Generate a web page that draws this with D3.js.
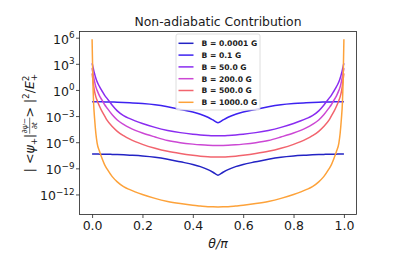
<!DOCTYPE html>
<html>
<head>
<meta charset="utf-8">
<script src="https://cdn.jsdelivr.net/npm/d3@7"></script>
<style>
  body { margin: 0; background: #fff; }
  svg { display: block; }
  text { font-family: "DejaVu Sans", sans-serif; fill: #1a1a1a; }
</style>
</head>
<body>
<svg id="chart" width="416" height="258"></svg>
<script>

// theta / pi sample points
var theta = [0, 0.003, 0.006, 0.01, 0.015, 0.02, 0.03, 0.04, 0.05, 0.06, 0.08, 0.1, 0.125, 0.15, 0.2, 0.25, 0.3, 0.35, 0.4, 0.43, 0.46, 0.48,
  0.5,
  0.52, 0.54, 0.57, 0.6, 0.65, 0.7, 0.75, 0.8, 0.85, 0.875, 0.9, 0.92, 0.94, 0.95, 0.96, 0.97, 0.98, 0.985, 0.99, 0.994, 0.997, 1.0];

// log10 of the plotted quantity
var expB00001 = [-7.36, -7.36, -7.36, -7.36, -7.36, -7.36, -7.37, -7.37, -7.38, -7.38, -7.40, -7.42, -7.45, -7.49, -7.58, -7.72, -7.95, -8.25, -8.55, -8.80, -9.15, -9.45,
  -9.78,
  -9.45, -9.15, -8.80, -8.55, -8.25, -7.95, -7.72, -7.58, -7.49, -7.45, -7.42, -7.40, -7.38, -7.38, -7.37, -7.37, -7.36, -7.36, -7.36, -7.36, -7.36, -7.36];

var expB01 = [-1.35, -1.35, -1.35, -1.35, -1.35, -1.35, -1.36, -1.36, -1.37, -1.37, -1.39, -1.41, -1.44, -1.48, -1.57, -1.71, -1.94, -2.24, -2.54, -2.79, -3.14, -3.44,
  -3.76,
  -3.44, -3.14, -2.79, -2.54, -2.24, -1.94, -1.71, -1.57, -1.48, -1.44, -1.41, -1.39, -1.37, -1.37, -1.36, -1.36, -1.35, -1.35, -1.35, -1.35, -1.35, -1.35];

var expB50 = [3.07, 2.7, 2.3, 1.85, 1.35, 0.95, 0.35, -0.15, -0.62, -1.0, -1.75, -2.4, -2.95, -3.3, -3.85, -4.3, -4.65, -4.9, -5.08, -5.16, -5.22, -5.25,
  -5.26,
  -5.25, -5.22, -5.16, -5.08, -4.9, -4.65, -4.3, -3.85, -3.3, -2.95, -2.4, -1.75, -1.0, -0.62, -0.15, 0.35, 0.95, 1.35, 1.85, 2.3, 2.7, 3.07];

var expB200 = [2.5, 2.0, 1.5, 0.95, 0.35, -0.05, -0.7, -1.2, -1.7, -2.1, -2.85, -3.45, -3.95, -4.35, -4.95, -5.4, -5.8, -6.05, -6.22, -6.3, -6.36, -6.38,
  -6.39,
  -6.38, -6.36, -6.3, -6.22, -6.05, -5.8, -5.4, -4.95, -4.35, -3.95, -3.45, -2.85, -2.1, -1.7, -1.2, -0.7, -0.05, 0.35, 0.95, 1.5, 2.0, 2.5];

var expB500 = [1.9, 1.2, 0.5, -0.2, -0.8, -1.2, -1.9, -2.5, -3.0, -3.5, -4.2, -4.75, -5.25, -5.65, -6.25, -6.7, -7.05, -7.3, -7.5, -7.6, -7.67, -7.7,
  -7.71,
  -7.7, -7.67, -7.6, -7.5, -7.3, -7.05, -6.7, -6.25, -5.65, -5.25, -4.75, -4.2, -3.5, -3.0, -2.5, -1.9, -1.2, -0.8, -0.2, 0.5, 1.2, 1.9];

var expB1000 = [5.83, 1.2, -1.5, -3.3, -5.0, -6.1, -7.1, -7.9, -8.6, -9.1, -9.95, -10.55, -11.1, -11.45, -12.0, -12.45, -12.8, -13.05, -13.25, -13.33, -13.4, -13.42,
  -13.43,
  -13.42, -13.4, -13.33, -13.25, -13.05, -12.8, -12.45, -12.0, -11.45, -11.1, -10.55, -9.95, -9.1, -8.6, -7.9, -7.1, -6.1, -5.0, -3.3, -1.5, 1.2, 5.83];

var seriesNames = ["B = 0.0001 G", "B = 0.1 G", "B = 50.0 G", "B = 200.0 G", "B = 500.0 G", "B = 1000.0 G"];
var seriesExps = [expB00001, expB01, expB50, expB200, expB500, expB1000];
var seriesColors = ["#2323c4", "#3d22f0", "#8a2cf0", "#cc48d4", "#f2646e", "#fda23a"];

var xTicks = [0, 0.2, 0.4, 0.6, 0.8, 1.0];
var yTickExps = [6, 3, 0, -3, -6, -9, -12];

var margin = { top: 31.5, right: 59.5, bottom: 43.5, left: 79.5 };
var width = 416 - margin.left - margin.right;
var height = 258 - margin.top - margin.bottom;

var svg = d3.select("#chart");

var x = d3.scaleLinear().domain([-0.05, 1.05]).range([0, width]);
var y = d3.scaleLog().domain([Math.pow(10, -14.3), Math.pow(10, 6.71)]).range([height, 0]);

var focus = svg.append("g")
  .attr("transform", "translate(" + margin.left + "," + margin.top + ")");

svg.append("defs").append("clipPath").attr("id", "clip")
  .append("rect").attr("width", width).attr("height", height);

var line = d3.line()
  .x(function (d) { return x(d[0]); })
  .y(function (d) { return y(Math.pow(10, d[1])); })
  .curve(d3.curveMonotoneX);

var plot = focus.append("g").attr("clip-path", "url(#clip)");

seriesExps.forEach(function (exps, i) {
  var pts = theta.map(function (t, j) { return [t, exps[j]]; });
  plot.append("path")
    .attr("d", line(pts))
    .attr("fill", "none")
    .attr("stroke", seriesColors[i])
    .attr("stroke-width", 1.5);
});

// axes
var xAxis = d3.axisBottom(x).tickValues(xTicks).tickSize(3.5).tickPadding(3.5)
  .tickFormat(d3.format(".1f"));
var gx = focus.append("g")
  .attr("transform", "translate(0," + height + ")")
  .call(xAxis);
gx.select(".domain").remove();
gx.selectAll("line").attr("stroke", "#222").attr("stroke-width", 0.8);
gx.selectAll("text").style("font-size", "12.5px").attr("fill", "#1a1a1a");

var yAxis = d3.axisLeft(y).tickValues(yTickExps.map(function (e) { return Math.pow(10, e); }))
  .tickSize(3.5).tickFormat("");
var gy = focus.append("g").call(yAxis);
gy.select(".domain").remove();
gy.selectAll("line").attr("stroke", "#222").attr("stroke-width", 0.8);

yTickExps.forEach(function (e) {
  var t = focus.append("text")
    .attr("x", -5)
    .attr("y", y(Math.pow(10, e)) + 6)
    .attr("text-anchor", "end")
    .style("font-size", "12.5px");
  t.append("tspan").text("10");
  t.append("tspan").attr("dy", -5.5).style("font-size", "8.8px")
    .text(e < 0 ? "\u2212" + (-e) : String(e));
});

// frame
focus.append("rect")
  .attr("width", width).attr("height", height)
  .attr("fill", "none").attr("stroke", "#222").attr("stroke-width", 0.8);

// title
svg.append("text")
  .attr("x", margin.left + width / 2)
  .attr("y", 26)
  .attr("text-anchor", "middle")
  .style("font-size", "12.4px")
  .text("Non-adiabatic Contribution");

// x label
svg.append("text")
  .attr("x", margin.left + width / 2)
  .attr("y", 248)
  .attr("text-anchor", "middle")
  .style("font-size", "12.5px")
  .style("font-style", "italic")
  .text("\u03b8/\u03c0");

// y label, built piece by piece
var lab = svg.append("g");
var cx = 0;
function piece(str, size, dy, italic) {
  var t = lab.append("text").attr("x", cx).attr("y", dy)
    .style("font-size", size + "px").text(str);
  if (italic) t.style("font-style", "italic");
  cx += t.node().getComputedTextLength();
  return t;
}
piece("| < ", 12.5, 0);
piece("\u03c8", 12.5, 0, true);
piece("+", 8.8, 2.5);
piece(" |", 12.5, 0);
var num = lab.append("text").attr("y", -6.8).style("font-size", "7.5px").style("font-style", "italic").text("\u2202\u03c8\u2212");
var den = lab.append("text").attr("y", 3.4).style("font-size", "7.5px").style("font-style", "italic").text("\u2202t");
var fw = Math.max(num.node().getComputedTextLength(), den.node().getComputedTextLength()) + 1;
num.attr("x", cx + fw / 2).attr("text-anchor", "middle");
den.attr("x", cx + fw / 2).attr("text-anchor", "middle");
lab.append("line").attr("x1", cx).attr("x2", cx + fw).attr("y1", -4.3).attr("y2", -4.3)
  .attr("stroke", "#1a1a1a").attr("stroke-width", 0.6);
cx += fw;
piece(" > |", 12.5, 0);
piece("2", 8.8, -5.5);
piece("/", 12.5, 0);
piece("E", 12.5, 0, true);
var supX = cx;
piece("2", 8.8, -5.5);
cx = supX;
piece("+", 8.8, 3);
lab.attr("transform", "translate(34," + (margin.top + height / 2) + ") rotate(-90) translate(" + (-cx / 2) + ",0)");

// legend
var lg = svg.append("g").attr("transform", "translate(176,34)");
lg.append("rect")
  .attr("width", 84).attr("height", 76).attr("rx", 2)
  .attr("fill", "#fff").attr("fill-opacity", 0.8)
  .attr("stroke", "#d6d6d6").attr("stroke-width", 0.8);
seriesNames.forEach(function (name, i) {
  var ry = 9.3 + i * 11.8;
  lg.append("line")
    .attr("x1", 2.5).attr("x2", 17.5).attr("y1", ry).attr("y2", ry)
    .attr("stroke", seriesColors[i]).attr("stroke-width", 1.5);
  lg.append("text")
    .attr("x", 25.5).attr("y", ry + 2.8)
    .style("font-size", "7.6px").style("font-weight", "bold")
    .text(name);
});
</script>
</body>
</html>
